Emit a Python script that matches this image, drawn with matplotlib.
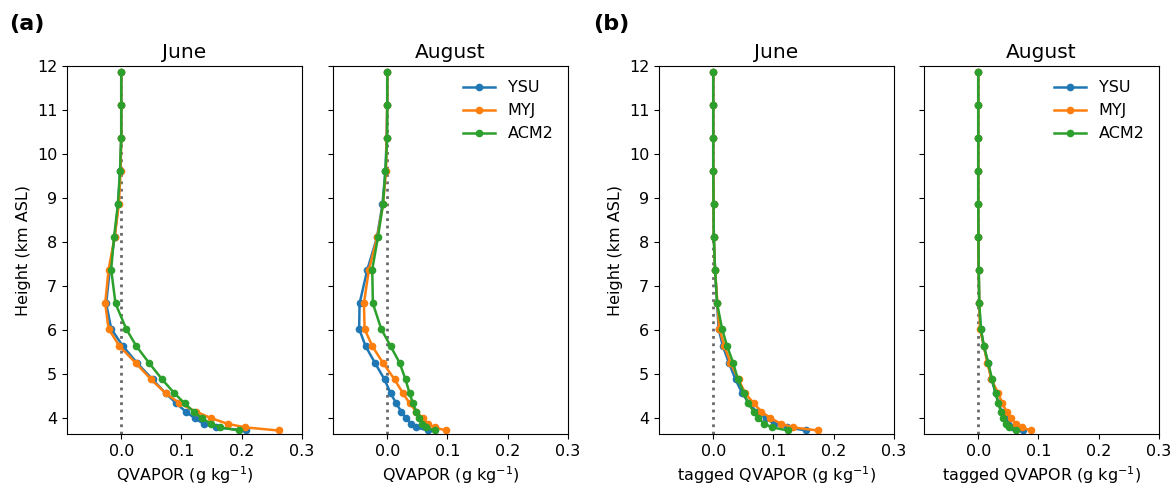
import matplotlib
matplotlib.use("Agg")
import matplotlib.pyplot as plt

# Model levels (km ASL), bottom to top
heights = [3.71, 3.78, 3.86, 3.99, 4.14, 4.33, 4.56, 4.87, 5.25, 5.63, 6.02,
           6.60, 7.37, 8.10, 8.85, 9.61, 10.36, 11.12, 11.86]

schemes = ["YSU", "MYJ", "ACM2"]
colors = ["#1f77b4", "#ff7f0e", "#2ca02c"]

# (a) QVAPOR difference, June
june_ysu = [0.207, 0.157, 0.137, 0.122, 0.107, 0.091, 0.0735, 0.052, 0.026, 0.0027,
            -0.0166, -0.025, -0.019, -0.011, -0.005, -0.002, 0.0, 0.0, 0.0]
june_myj = [0.261, 0.206, 0.177, 0.149, 0.124, 0.0967, 0.0735, 0.0497, 0.0237, -0.003,
            -0.021, -0.0266, -0.021, -0.011, -0.004, -0.001, 0.0, 0.0, 0.0]
june_acm2 = [0.196, 0.164, 0.149, 0.134, 0.120, 0.105, 0.088, 0.068, 0.046, 0.025,
             0.0083, -0.0095, -0.0167, -0.012, -0.0056, -0.002, 0.0, 0.0, 0.0]

# (a) QVAPOR difference, August
aug_ysu = [0.0675, 0.048, 0.040, 0.0315, 0.0232, 0.0149, 0.0055, -0.0044, -0.0205, -0.036,
           -0.0466, -0.0459, -0.033, -0.017, -0.008, -0.003, -0.001, 0.0, 0.0]
aug_myj = [0.098, 0.0785, 0.0675, 0.059, 0.048, 0.037, 0.026, 0.0122, -0.0072, -0.0249,
           -0.0376, -0.0387, -0.0304, -0.0166, -0.007, -0.002, -0.001, 0.0, 0.0]
aug_acm2 = [0.0785, 0.0647, 0.058, 0.0525, 0.048, 0.0426, 0.037, 0.0304, 0.0205, 0.0055,
            -0.010, -0.0238, -0.0249, -0.0155, -0.0072, -0.003, 0.0, 0.0, 0.0]

# (b) tagged QVAPOR, June
tag_june_ysu = [0.154, 0.123, 0.101, 0.087, 0.072, 0.059, 0.048, 0.037, 0.026, 0.016,
                0.009, 0.0064, 0.003, 0.001, 0.0005, 0.0, 0.0, 0.0, 0.0]
tag_june_myj = [0.174, 0.133, 0.113, 0.095, 0.080, 0.067, 0.053, 0.042, 0.0285, 0.0186,
                0.010, 0.007, 0.003, 0.001, 0.0005, 0.0, 0.0, 0.0, 0.0]
tag_june_acm2 = [0.124, 0.098, 0.085, 0.075, 0.067, 0.058, 0.051, 0.041, 0.033, 0.023,
                 0.0147, 0.0064, 0.003, 0.001, 0.0005, 0.0, 0.0, 0.0, 0.0]

# (b) tagged QVAPOR, August
tag_aug_ysu = [0.0746, 0.056, 0.050, 0.044, 0.039, 0.034, 0.029, 0.022, 0.016, 0.009,
               0.004, 0.0017, 0.0008, 0.0003, 0.0, 0.0, 0.0, 0.0, 0.0]
tag_aug_myj = [0.088, 0.072, 0.0625, 0.054, 0.047, 0.040, 0.033, 0.022, 0.015, 0.0095,
               0.0028, 0.0017, 0.0008, 0.0003, 0.0, 0.0, 0.0, 0.0, 0.0]
tag_aug_acm2 = [0.0625, 0.051, 0.046, 0.0415, 0.0376, 0.033, 0.0287, 0.023, 0.0166, 0.0095,
                0.0045, 0.0017, 0.0008, 0.0003, 0.0, 0.0, 0.0, 0.0, 0.0]

panels = [
    ("June", [june_ysu, june_myj, june_acm2], "QVAPOR (g kg$^{-1}$)"),
    ("August", [aug_ysu, aug_myj, aug_acm2], "QVAPOR (g kg$^{-1}$)"),
    ("June", [tag_june_ysu, tag_june_myj, tag_june_acm2], "tagged QVAPOR (g kg$^{-1}$)"),
    ("August", [tag_aug_ysu, tag_aug_myj, tag_aug_acm2], "tagged QVAPOR (g kg$^{-1}$)"),
]

xticks = [0.0, 0.1, 0.2, 0.3]
yticks = [4, 5, 6, 7, 8, 9, 10, 11, 12]

W, H = 1174, 488
fig = plt.figure(figsize=(W / 100, H / 100), dpi=100)

lefts = [67, 333, 659, 924]
ax_w, ax_bot, ax_top = 235, 434, 66

for i, (title, series, xlabel) in enumerate(panels):
    ax = fig.add_axes([lefts[i] / W, 1 - ax_bot / H, ax_w / W, (ax_bot - ax_top) / H])
    ax.axvline(0, color="dimgray", linestyle=":", linewidth=2, zorder=1)
    for name, vals, c in zip(schemes, series, colors):
        ax.plot(vals, heights, "-o", color=c, lw=1.8, ms=4.5, label=name, zorder=2)
    ax.set_xlim(-0.09, 0.3)
    ax.set_ylim(3.63, 12)
    ax.set_xticks(xticks)
    ax.set_yticks(yticks)
    ax.tick_params(labelsize=11.5)
    ax.set_title(title, fontsize=14.5)
    ax.set_xlabel(xlabel, fontsize=11.5)
    if i in (0, 2):
        ax.set_ylabel("Height (km ASL)", fontsize=11.5)
    else:
        ax.set_yticklabels([])
        ax.legend(loc="upper right", frameon=False, fontsize=11.5)

fig.text(0.008, 0.972, "(a)", fontsize=16, fontweight="bold", va="top", ha="left")
fig.text(0.505, 0.972, "(b)", fontsize=16, fontweight="bold", va="top", ha="left")

fig.savefig("out.png", dpi=100)
